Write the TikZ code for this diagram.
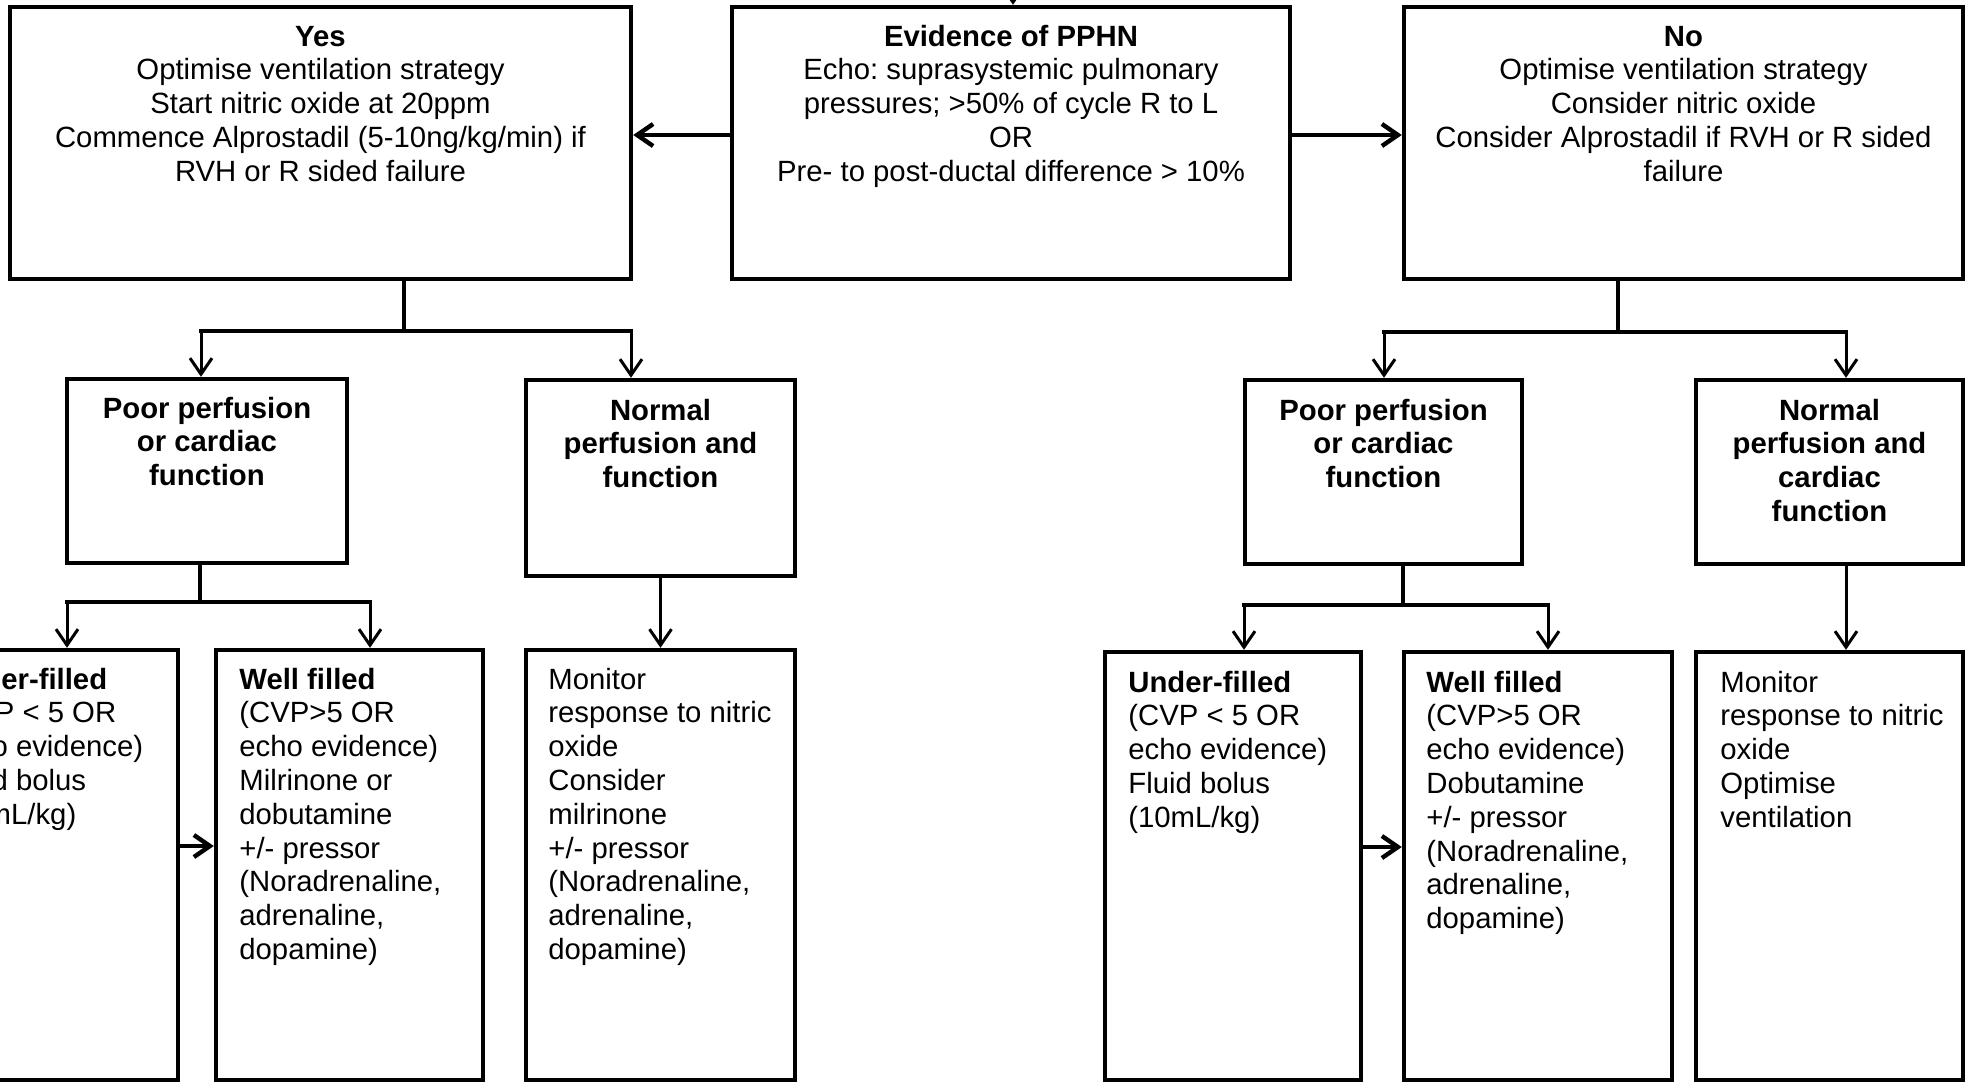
\documentclass[tikz,border=0pt]{standalone}
\usepackage{fontspec}
\setmainfont{Liberation Sans}
\usetikzlibrary{arrows.meta,fit}
\frenchspacing
\tikzset{
  box/.style={draw, line width=2.2pt, inner sep=0pt, rectangle},
  thk/.style={line width=2.2pt},
  thn/.style={line width=1.5pt},
  arr/.style={-{Straight Barb[length=8pt,width=11pt]}},
  txt/.style={inner sep=0pt, anchor=base},
  ltxt/.style={inner sep=0pt, anchor=base west},
}
\newcommand{\ctext}[1]{\parbox[t]{330pt}{\centering #1}}
\newcommand{\ltext}[1]{\parbox[t]{140pt}{\raggedright #1}}
\begin{document}
\frenchspacing
\begin{tikzpicture}[x=0.5pt,y=-0.5pt,font=\fontsize{14.65}{16.9}\selectfont]
\clip (0,0) rectangle (1966,1083);
% top row
\node[box, fit={(10,7) (631,279)}] (yes) {};
\node[box, fit={(732,7) (1290,279)}] (evid) {};
\node[box, fit={(1404,7) (1963,279)}] (no) {};
\node[txt] (yesT) at (320.5,46) {\ctext{\textbf{Yes}\\Optimise ventilation strategy\\Start nitric oxide at 20ppm\\Commence Alprostadil (5-10ng/kg/min) if\\RVH or R sided failure}};
\node[txt] (evidT) at (1011,46) {\ctext{\textbf{Evidence of PPHN}\\Echo: suprasystemic pulmonary\\pressures; >50\% of cycle R to L\\OR\\Pre- to post-ductal difference > 10\%}};
\node[txt] (noT) at (1683.5,46) {\ctext{\textbf{No}\\Optimise ventilation strategy\\Consider nitric oxide\\Consider Alprostadil if RVH or R sided\\failure}};
% second row
\node[box, fit={(67,379) (347,563)}] (poorL) {};
\node[box, fit={(526,380) (795,576)}] (normL) {};
\node[box, fit={(1245,380) (1522,564)}] (poorR) {};
\node[box, fit={(1696,380) (1963,564)}] (normR) {};
\node[txt] (poorLT) at (207,418) {\ctext{\textbf{Poor perfusion\\or cardiac\\function}}};
\node[txt] (normLT) at (660.5,420) {\ctext{\textbf{Normal\\perfusion and\\function}}};
\node[txt] (poorRT) at (1383.5,420) {\ctext{\textbf{Poor perfusion\\or cardiac\\function}}};
\node[txt] (normRT) at (1829.5,420) {\ctext{\textbf{Normal\\perfusion and\\cardiac\\function}}};
% third row
\node[box, fit={(-79,650) (178,1080)}] (undL) {};
\node[box, fit={(216,650) (483,1080)}] (wellL) {};
\node[box, fit={(526,650) (795,1080)}] (monL) {};
\node[box, fit={(1105,652) (1361,1080)}] (undR) {};
\node[box, fit={(1404,652) (1672,1080)}] (wellR) {};
\node[box, fit={(1696,652) (1963,1080)}] (monR) {};
\node[ltxt] (undLT) at (-56,689) {\ltext{\textbf{Under-filled}\\(CVP < 5 OR\\echo evidence)\\Fluid bolus\\(10mL/kg)}};
\node[ltxt] (wellLT) at (239,689) {\ltext{\textbf{Well filled}\\(CVP>5 OR\\echo evidence)\\Milrinone or\\dobutamine\\+/- pressor\\(Noradrenaline,\\adrenaline,\\dopamine)}};
\node[ltxt] (monLT) at (548,689) {\ltext{Monitor\\response to nitric\\oxide\\Consider\\milrinone\\+/- pressor\\(Noradrenaline,\\adrenaline,\\dopamine)}};
\node[ltxt] (undRT) at (1128,692) {\ltext{\textbf{Under-filled}\\(CVP < 5 OR\\echo evidence)\\Fluid bolus\\(10mL/kg)}};
\node[ltxt] (wellRT) at (1426,692) {\ltext{\textbf{Well filled}\\(CVP>5 OR\\echo evidence)\\Dobutamine\\+/- pressor\\(Noradrenaline,\\adrenaline,\\dopamine)}};
\node[ltxt] (monRT) at (1720,692) {\ltext{Monitor\\response to nitric\\oxide\\Optimise\\ventilation}};
% top connectors
\coordinate (topin) at (1013,-40);
\draw[thn,arr] (topin) -- (topin |- evid.north);
\draw[thk,arr] ([yshift=4pt]evid.west) -- ([yshift=4pt]evid.west -| yes.east);
\draw[thk,arr] ([yshift=4pt]evid.east) -- ([yshift=4pt]evid.east -| no.west);
% left branch
\coordinate (jY) at (404,331);
\coordinate (jA) at (201,331);
\coordinate (jB) at (631,331);
\draw[thk] (yes.south -| jY) -- (jY);
\draw[thk,line cap=rect] (jA) -- (jB);
\draw[thn,arr] (jA) -- (jA |- poorL.north);
\draw[thn,arr] (jB) -- (jB |- normL.north);
\coordinate (kP) at (200,602);
\coordinate (kA) at (67,602);
\coordinate (kB) at (370,602);
\draw[thk] (poorL.south -| kP) -- (kP);
\draw[thk,line cap=rect] (kA) -- (kB);
\draw[thn,arr] (kA) -- (kA |- undL.north);
\draw[thn,arr] (kB) -- (kB |- wellL.north);
\draw[thn,arr] (normL.south) -- (normL.south |- monL.north);
\coordinate (hL) at (0,846);
\draw[thk,arr] (undL.east |- hL) -- (wellL.west |- hL);
% right branch
\coordinate (jY2) at (1618,332);
\coordinate (jC) at (1384,332);
\coordinate (jD) at (1846,332);
\draw[thk] (no.south -| jY2) -- (jY2);
\draw[thk,line cap=rect] (jC) -- (jD);
\draw[thn,arr] (jC) -- (jC |- poorR.north);
\draw[thn,arr] (jD) -- (jD |- normR.north);
\coordinate (kP2) at (1403,605);
\coordinate (kC) at (1244,605);
\coordinate (kD) at (1548,605);
\draw[thk] (poorR.south -| kP2) -- (kP2);
\draw[thk,line cap=rect] (kC) -- (kD);
\draw[thn,arr] (kC) -- (kC |- undR.north);
\draw[thn,arr] (kD) -- (kD |- wellR.north);
\draw[thn,arr] (normR.south -| jD) -- (jD |- monR.north);
\coordinate (hR) at (0,847);
\draw[thk,arr] (undR.east |- hR) -- (wellR.west |- hR);
\end{tikzpicture}
\end{document}
